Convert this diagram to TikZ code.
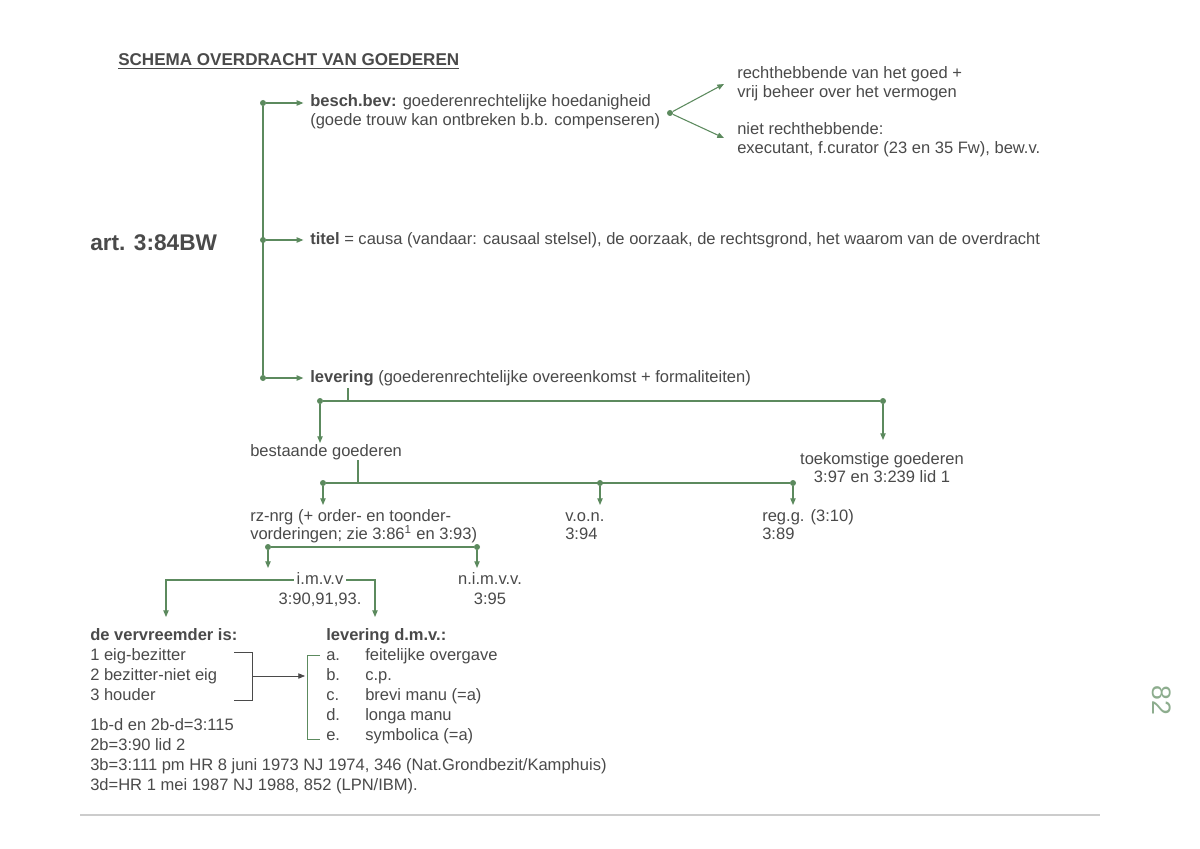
\documentclass[tikz,border=0pt]{standalone}
\usepackage{fontspec}
\setmainfont{Liberation Sans}
\usetikzlibrary{arrows.meta}
\definecolor{ink}{HTML}{4A4A4A}
\definecolor{grn}{HTML}{5C8A5E}
\begin{document}
\begin{tikzpicture}[x=0.75pt,y=-0.75pt,
  txt/.style={anchor=west,inner sep=0pt,text height=8.5pt,text depth=2.5pt,text=ink,font=\fontsize{12.4}{14}\selectfont},
  ln/.style={draw=grn,line width=0.8pt},
  arr/.style={ln,-{Triangle[length=5pt,width=4pt]}},
  dot/.style={circle,fill=grn,inner sep=0pt,minimum size=4.5pt}]
\useasboundingbox (0,0) rectangle (1200,849);
\fill[white] (0,0) rectangle (1200,849);
\node[txt,font=\bfseries\fontsize{12.8}{14}\selectfont] (title) at (118,62) {\underline{SCHEMA OVERDRACHT VAN GOEDEREN}};
\node[txt,text height=12pt,font=\bfseries\fontsize{17}{19}\selectfont] (art) at (90,244) {art. 3:84BW};
% spine
\node[dot] (d1) at (263,103) {};
\node[dot] (d2) at (263,240) {};
\node[dot] (d3) at (263,378) {};
\draw[ln] (d1) -- (d3);
\node[txt] (besch) at (310,103) {\textbf{besch.bev:} goederenrechtelijke hoedanigheid};
\node[txt] (besch2) at (310,122) {(goede trouw kan ontbreken b.b. compenseren)};
\node[txt] (titel) at (310,240) {\textbf{titel} = causa (vandaar: causaal stelsel), de oorzaak, de rechtsgrond, het waarom van de overdracht};
\node[txt] (lev) at (310,378) {\textbf{levering} (goederenrechtelijke overeenkomst + formaliteiten)};
\draw[arr,shorten >=5pt] (d1) -- (besch.west);
\draw[arr,shorten >=5pt] (d2) -- (titel.west);
\draw[arr,shorten >=5pt] (d3) -- (lev.west);
\node[dot] (d4) at (670,113) {};
\coordinate (r1) at (724,84);
\coordinate (r2) at (724,138);
\draw[arr] (d4) -- (r1);
\draw[arr] (d4) -- (r2);
\node[txt] (rh1) at (737,75) {rechthebbende van het goed +};
\node[txt] (rh2) at (737,94) {vrij beheer over het vermogen};
\node[txt] (nr1) at (737,130) {niet rechthebbende:};
\node[txt] (nr2) at (737,149) {executant, f.curator (23 en 35 Fw), bew.v.};
% levering split
\coordinate (t1a) at (348,388);
\coordinate (t1b) at (348,401);
\draw[ln] (t1a) -- (t1b);
\node[dot] (d5) at (320,401) {};
\node[dot] (d6) at (883,401) {};
\draw[ln] (d5) -- (d6);
\coordinate (b1) at (320,443);
\coordinate (b2) at (883,440);
\draw[arr] (d5) -- (b1);
\draw[arr] (d6) -- (b2);
\node[txt] (best) at (250,452) {bestaande goederen};
\node[txt,anchor=center] (toek) at (882,460) {toekomstige goederen};
\node[txt,anchor=center] (toek2) at (882,478) {3:97 en 3:239 lid 1};
% bestaande split
\coordinate (t2a) at (358,460);
\coordinate (t2b) at (358,483);
\draw[ln] (t2a) -- (t2b);
\node[dot] (d7) at (323,483) {};
\node[dot] (d8) at (600,483) {};
\node[dot] (d9) at (793,483) {};
\draw[ln] (d7) -- (d9);
\coordinate (c1) at (323,505);
\coordinate (c2) at (600,505);
\coordinate (c3) at (793,505);
\draw[arr] (d7) -- (c1);
\draw[arr] (d8) -- (c2);
\draw[arr] (d9) -- (c3);
\node[txt] (rz1) at (250,517) {rz-nrg (+ order- en toonder-};
\node[txt] (rz2) at (250,535) {vorderingen; zie 3:86\textsuperscript{1} en 3:93)};
\node[txt] (von1) at (565,517) {v.o.n.};
\node[txt] (von2) at (565,535) {3:94};
\node[txt] (reg1) at (762,517) {reg.g. (3:10)};
\node[txt] (reg2) at (762,535) {3:89};
% rz split
\node[dot] (d10) at (268,547) {};
\node[dot] (d11) at (477,547) {};
\draw[ln] (d10) -- (d11);
\coordinate (e1) at (268,568);
\coordinate (e2) at (477,568);
\draw[arr] (d10) -- (e1);
\draw[arr] (d11) -- (e2);
\node[txt,anchor=center,inner xsep=2pt] (imvv) at (320,580) {i.m.v.v};
\node[txt,anchor=center] (imvv2) at (320,600) {3:90,91,93.};
\node[txt,anchor=center] (nimvv) at (490,580) {n.i.m.v.v.};
\node[txt,anchor=center] (nimvv2) at (490,600) {3:95};
\coordinate (f1) at (166,617);
\coordinate (f2) at (375,617);
\draw[arr] (imvv.west) -| (f1);
\draw[arr] (imvv.east) -| (f2);
% lower left
\node[txt,font=\bfseries\fontsize{12.4}{14}\selectfont] (verv) at (90,636) {de vervreemder is:};
\node[txt] (v1) at (90,656) {1 eig-bezitter};
\node[txt] (v2) at (90,676) {2 bezitter-niet eig};
\node[txt] (v3) at (90,696) {3 houder};
\coordinate (k1) at (234,652);
\coordinate (k2) at (252,652);
\coordinate (k3) at (252,700);
\coordinate (k4) at (234,700);
\draw[ln,draw=ink,line width=0.6pt] (k1) -- (k2) -- (k3) -- (k4);
\coordinate (k5) at (252,676);
\coordinate (k6) at (305,676);
\draw[ln,draw=ink,line width=0.6pt,-{Triangle[length=5pt,width=4pt]}] (k5) -- (k6);
\node[txt,font=\bfseries\fontsize{12.4}{14}\selectfont] (ldmv) at (326,636) {levering d.m.v.:};
\coordinate (m1) at (320,655);
\coordinate (m2) at (307,655);
\coordinate (m3) at (307,739);
\coordinate (m4) at (320,739);
\draw[ln,line width=0.6pt] (m1) -- (m2) -- (m3) -- (m4);
\foreach \l/\t [count=\i] in {a./feitelijke overgave,b./c.p.,c./brevi manu (=a),d./longa manu,e./symbolica (=a)}{
  \node[txt] (la\i) at (326,636+20*\i) {\l};
  \node[txt] (lt\i) at (365,636+20*\i) {\t};
}
\node[txt] (n1) at (90,726) {1b-d en 2b-d=3:115};
\node[txt] (n2) at (90,746) {2b=3:90 lid 2};
\node[txt] (n3) at (90,766) {3b=3:111 pm HR 8 juni 1973 NJ 1974, 346 (Nat.Grondbezit/Kamphuis)};
\node[txt] (n4) at (90,786) {3d=HR 1 mei 1987 NJ 1988, 852 (LPN/IBM).};
\coordinate (g1) at (80,815);
\coordinate (g2) at (1100,815);
\draw[gray!40,line width=0.8pt] (g1) -- (g2);
\node[text=grn!70,rotate=-90,font=\fontsize{20}{22}\selectfont] (pg) at (1162,700) {82};
\end{tikzpicture}
\end{document}
